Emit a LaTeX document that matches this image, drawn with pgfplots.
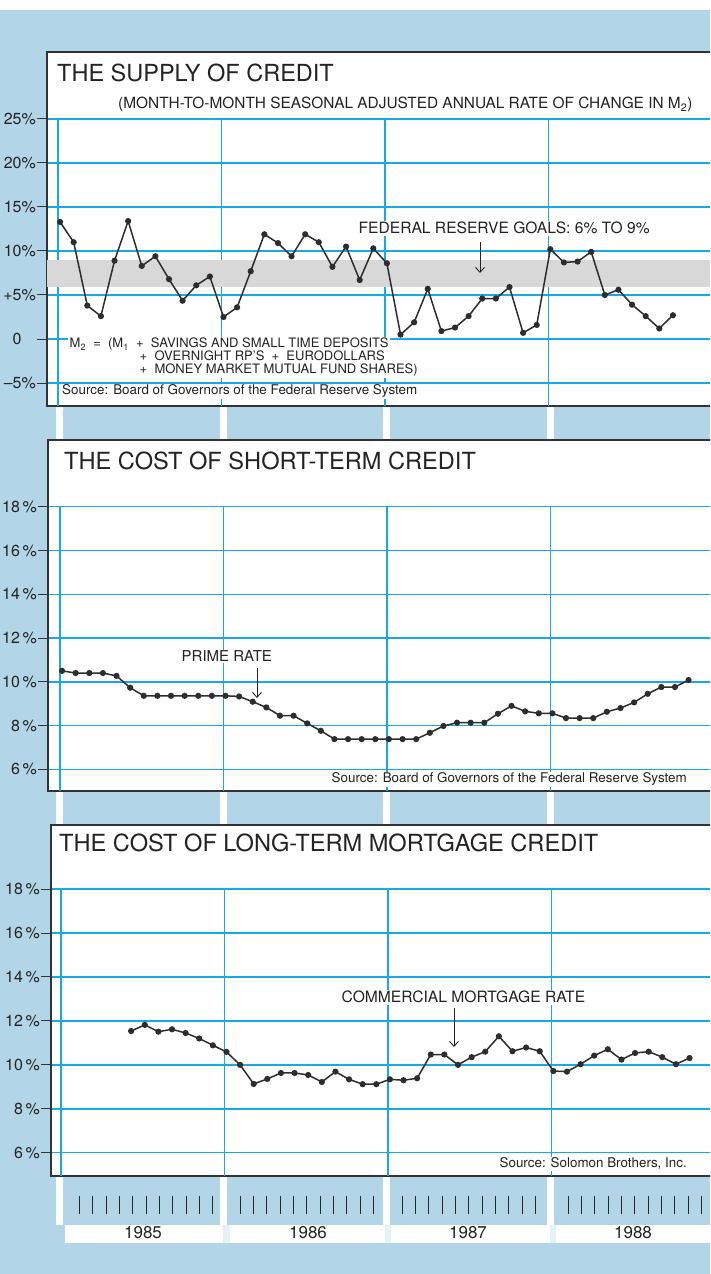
\documentclass[border=0pt]{standalone}
\usepackage{pgfplots}
\pgfplotsset{compat=1.18}
\usepackage{fontspec}
\setmainfont{TeX Gyre Heros}
\usetikzlibrary{arrows.meta}
\definecolor{bgblue}{RGB}{178,214,231}
\definecolor{gridblue}{RGB}{24,168,228}
\definecolor{bandgray}{RGB}{216,216,216}
\definecolor{linecol}{RGB}{45,45,45}
\definecolor{txt}{RGB}{35,35,35}
\newcommand{\fs}[1]{\fontsize{#1}{#1}\selectfont}
\pgfplotsset{
 panel/.style={
  scale only axis, anchor=south west,
  axis background/.style={fill=white},
  axis line style={line width=1.2pt, draw=black!80},
  xtick=\empty, ytick pos=left, tick align=outside,
  major tick length=10pt,
  ymajorgrids, grid style={gridblue, line width=1.5pt},
  major tick style={black!80, line width=1pt},
  yticklabel style={font=\fs{16}, text=txt, anchor=east, inner xsep=1pt},
 },
 dat/.style={linecol, line width=1.5pt, mark=*, mark size=2.3pt, mark options={fill=linecol, draw=linecol}},
}
\begin{document}
\begin{tikzpicture}
\useasboundingbox (0,0) rectangle (710pt,1274pt);
\clip (0,0) rectangle (710pt,1274pt);
\begin{scope}[x=1pt,y=1pt]
\fill[bgblue] (0,0) rectangle (710,1274);
\fill[white] (0,1264) rectangle (710,1274);
\foreach \c in {59,223,386,550} {\fill[white] (\c-3.5,49) rectangle (\c+3.5,874);}
\fill[bgblue!35!white] (65,31) rectangle (712,49);
\fill[white] (65,31) rectangle (223,49);
\fill[white] (230,31) rectangle (385,49);
\fill[white] (391,31) rectangle (550,49);
\fill[white] (556,31) rectangle (712,49);
\foreach \s in {79.3,240,402,568} {\foreach \i in {0,...,10} {\draw[black!85, line width=0.9pt] ({\s+13.35*\i},78) -- ({\s+13.35*\i},60);}}
\node[anchor=base, font=\fs{17}, text=txt] at (143,35) {1985};
\node[anchor=base, font=\fs{17}, text=txt] at (308,35) {1986};
\node[anchor=base, font=\fs{17}, text=txt] at (468,35) {1987};
\node[anchor=base, font=\fs{17}, text=txt] at (633,35) {1988};
\end{scope}

% Panel 1
\begin{axis}[panel, at={(47pt,868pt)}, width=665pt, height=354pt,
 xmin=-0.958, xmax=47.87, ymin=-7.61, ymax=32.61,
 ytick={-5,0,5,10,15,20,25},
 yticklabels={\textendash5\%, 0\phantom{\%}, +5\%, 10\%, 15\%, 20\%, 25\%}]
\draw[gridblue, line width=1.5pt] (axis cs:-0.15,25) -- (axis cs:-0.15,-7.61);
\draw[gridblue, line width=1.5pt] (axis cs:11.85,25) -- (axis cs:11.85,-7.61);
\draw[gridblue, line width=1.5pt] (axis cs:23.85,25) -- (axis cs:23.85,-7.61);
\draw[gridblue, line width=1.5pt] (axis cs:35.85,25) -- (axis cs:35.85,-7.61);
\fill[bandgray] (axis cs:-1,5.9) rectangle (axis cs:48,9.0);
\addplot[dat] table {
0 13.3
1 11.0
2 3.8
3 2.6
4 8.9
5 13.4
6 8.3
7 9.4
8 6.8
9 4.35
10 6.1
11 7.1
12 2.5
13 3.6
14 7.7
15 11.9
16 10.9
17 9.4
18 11.9
19 11.0
20 8.2
21 10.5
22 6.7
23 10.3
24 8.6
25 0.5
26 1.9
27 5.7
28 0.9
29 1.3
30 2.6
31 4.6
32 4.6
33 5.9
34 0.7
35 1.6
36 10.2
37 8.7
38 8.8
39 9.9
40 5.0
41 5.6
42 3.9
43 2.6
44 1.2
45 2.7
};
\end{axis}

% Panel 2
\begin{axis}[panel, at={(48pt,483pt)}, width=664pt, height=351pt,
 xmin=-1.031, xmax=47.72, ymin=5.01, ymax=21.05,
 ytick={6,8,10,12,14,16,18},
 yticklabels={6\,\%,8\,\%,10\,\%,12\,\%,14\,\%,16\,\%,18\,\%}]
\draw[gridblue, line width=1.5pt] (axis cs:-0.15,18) -- (axis cs:-0.15,5.01);
\draw[gridblue, line width=1.5pt] (axis cs:11.85,18) -- (axis cs:11.85,5.01);
\draw[gridblue, line width=1.5pt] (axis cs:23.85,18) -- (axis cs:23.85,5.01);
\draw[gridblue, line width=1.5pt] (axis cs:35.85,18) -- (axis cs:35.85,5.01);
\addplot[dat] table {
0 10.5
1 10.4
2 10.4
3 10.4
4 10.27
5 9.73
6 9.36
7 9.36
8 9.36
9 9.36
10 9.36
11 9.36
12 9.36
13 9.33
14 9.09
15 8.83
16 8.45
17 8.45
18 8.1
19 7.76
20 7.38
21 7.38
22 7.38
23 7.38
24 7.38
25 7.38
26 7.38
27 7.67
28 7.98
29 8.13
30 8.13
31 8.13
32 8.54
33 8.9
34 8.65
35 8.56
36 8.56
37 8.34
38 8.34
39 8.34
40 8.63
41 8.8
42 9.06
43 9.45
44 9.76
45 9.76
46 10.08
};
\end{axis}

% Panel 3
\begin{axis}[panel, at={(51pt,98pt)}, width=661pt, height=351pt,
 xmin=-0.884, xmax=47.65, ymin=4.94, ymax=20.92,
 ytick={6,8,10,12,14,16,18},
 yticklabels={6\,\%,8\,\%,10\,\%,12\,\%,14\,\%,16\,\%,18\,\%}]
\draw[gridblue, line width=1.5pt] (axis cs:-0.15,18) -- (axis cs:-0.15,4.94);
\draw[gridblue, line width=1.5pt] (axis cs:11.85,18) -- (axis cs:11.85,4.94);
\draw[gridblue, line width=1.5pt] (axis cs:23.85,18) -- (axis cs:23.85,4.94);
\draw[gridblue, line width=1.5pt] (axis cs:35.85,18) -- (axis cs:35.85,4.94);
\addplot[dat] table {
5 11.54
6 11.82
7 11.51
8 11.62
9 11.45
10 11.2
11 10.89
12 10.59
13 10.0
14 9.13
15 9.36
16 9.63
17 9.63
18 9.54
19 9.22
20 9.69
21 9.34
22 9.12
23 9.12
24 9.34
25 9.30
26 9.39
27 10.47
28 10.47
29 10.0
30 10.35
31 10.6
32 11.3
33 10.62
34 10.79
35 10.62
36 9.72
37 9.69
38 10.03
39 10.42
40 10.71
41 10.24
42 10.54
43 10.6
44 10.35
45 10.03
46 10.31
};
\end{axis}

\begin{scope}[x=1pt,y=1pt, every node/.style={text=txt}]
\tikzset{arr/.style={txt, line width=0.9pt, -{Straight Barb[length=5pt,width=9pt]}}}
% panel 1 text
\node[anchor=base west, inner sep=0, font=\fs{23.5}] at (57,1192) {THE SUPPLY OF CREDIT};
\node[anchor=base west, inner sep=0, font=\fs{15.4}] at (118,1165) {(MONTH-TO-MONTH SEASONAL ADJUSTED ANNUAL RATE OF CHANGE IN M\textsubscript{2})};
\node[anchor=base west, fill=white, inner sep=1.5pt, font=\fs{15.6}] at (357,1040) {FEDERAL RESERVE GOALS: 6\% TO 9\%};
\draw[arr] (480,1032) -- (480,1001);
\node[anchor=base west, fill=white, inner sep=1.5pt, font=\fs{13}] at (68,926) {M\textsubscript{2} \ = \ (M\textsubscript{1} \ + \ SAVINGS AND SMALL TIME DEPOSITS};
\node[anchor=base west, fill=white, inner sep=1.5pt, font=\fs{13}] at (138,913) {+ \ OVERNIGHT RP'S \ + \ EURODOLLARS};
\node[anchor=base west, fill=white, inner sep=1.5pt, font=\fs{13}] at (138,900) {+ \ MONEY MARKET MUTUAL FUND SHARES)};
\node[anchor=base west, fill=white, inner sep=1pt, font=\fs{13.4}] at (61,879) {Source: Board of Governors of the Federal Reserve System};
% panel 2 text
\node[anchor=base west, inner sep=0, font=\fs{23.6}] at (64,804) {THE COST OF SHORT-TERM CREDIT};
\node[anchor=base west, fill=white, inner sep=1.5pt, font=\fs{15}] at (180,612) {PRIME RATE};
\draw[arr] (257,606) -- (257,576);
\node[anchor=base east, fill=white, inner sep=1pt, font=\fs{13.4}] at (688,491) {Source: Board of Governors of the Federal Reserve System};
% panel 3 text
\node[anchor=base west, inner sep=0, font=\fs{23.6}] at (59,422) {THE COST OF LONG-TERM MORTGAGE CREDIT};
\node[anchor=base west, fill=white, inner sep=1.5pt, font=\fs{15.6}] at (340,271) {COMMERCIAL MORTGAGE RATE};
\draw[arr] (454,266) -- (454,227);
\node[anchor=base east, fill=white, inner sep=1pt, font=\fs{13.4}] at (688,106) {Source: Solomon Brothers, Inc.};
\end{scope}
\end{tikzpicture}
\end{document}
